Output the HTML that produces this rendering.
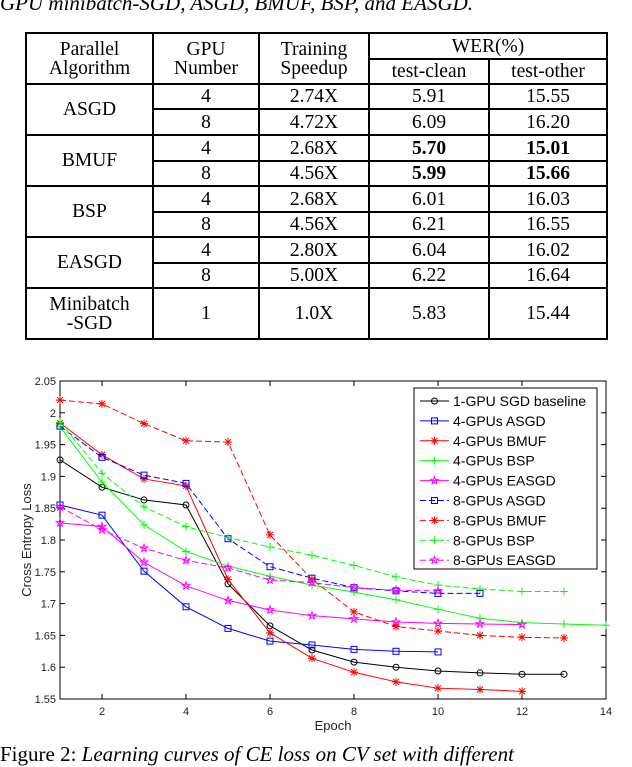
<!DOCTYPE html>
<html><head><meta charset="utf-8">
<style>
body{margin:0;width:632px;height:766px;overflow:hidden;background:#fff;position:relative;font-family:"Liberation Serif",serif}
.cap{position:absolute;left:0;white-space:nowrap;font-size:21px;font-style:italic}
table{position:absolute;left:25px;top:32px;border-collapse:collapse;font-size:19.5px;line-height:19px}
td{border:2px solid #000;text-align:center;padding:0}
b{font-weight:bold}
</style></head><body>
<div class="cap" style="top:-9px">GPU minibatch-SGD, ASGD, BMUF, BSP, and EASGD.</div>
<table>
<colgroup><col style="width:127px"><col style="width:106px"><col style="width:110px"><col style="width:120px"><col style="width:118px"></colgroup>
<tr style="height:26px"><td rowspan="2">Parallel<br>Algorithm</td><td rowspan="2">GPU<br>Number</td><td rowspan="2">Training<br>Speedup</td><td colspan="2">WER(%)</td></tr>
<tr style="height:25px"><td>test-clean</td><td>test-other</td></tr>
<tr style="height:25px"><td rowspan="2">ASGD</td><td>4</td><td>2.74X</td><td>5.91</td><td>15.55</td></tr>
<tr style="height:26px"><td>8</td><td>4.72X</td><td>6.09</td><td>16.20</td></tr>
<tr style="height:26px"><td rowspan="2">BMUF</td><td>4</td><td>2.68X</td><td><b>5.70</b></td><td><b>15.01</b></td></tr>
<tr style="height:25px"><td>8</td><td>4.56X</td><td><b>5.99</b></td><td><b>15.66</b></td></tr>
<tr style="height:26px"><td rowspan="2">BSP</td><td>4</td><td>2.68X</td><td>6.01</td><td>16.03</td></tr>
<tr style="height:25px"><td>8</td><td>4.56X</td><td>6.21</td><td>16.55</td></tr>
<tr style="height:26px"><td rowspan="2">EASGD</td><td>4</td><td>2.80X</td><td>6.04</td><td>16.02</td></tr>
<tr style="height:25px"><td>8</td><td>5.00X</td><td>6.22</td><td>16.64</td></tr>
<tr style="height:51px"><td>Minibatch<br>-SGD</td><td>1</td><td>1.0X</td><td>5.83</td><td>15.44</td></tr>
</table>
<svg id="chart" width="632" height="766" style="position:absolute;left:0;top:0"></svg>
<div class="cap" style="top:742px"><span style="font-style:normal">Figure 2:</span> Learning curves of CE loss on CV set with different</div>
<script>
const xTicks=[2,4,6,8,10,12,14];
const yTicks=[1.55,1.6,1.65,1.7,1.75,1.8,1.85,1.9,1.95,2,2.05];
const yTickLabels=["1.55","1.6","1.65","1.7","1.75","1.8","1.85","1.9","1.95","2","2.05"];
const seriesNames=["1-GPU SGD baseline","4-GPUs ASGD","4-GPUs BMUF","4-GPUs BSP","4-GPUs EASGD","8-GPUs ASGD","8-GPUs BMUF","8-GPUs BSP","8-GPUs EASGD"];
const baseline=[1.926,1.883,1.863,1.855,1.731,1.665,1.627,1.608,1.600,1.594,1.591,1.589,1.589];
const asgd4=[1.855,1.839,1.751,1.695,1.661,1.641,1.635,1.628,1.625,1.624];
const bmuf4=[1.984,1.934,1.896,1.885,1.738,1.654,1.614,1.592,1.577,1.567,1.565,1.562];
const bsp4=[1.978,1.891,1.824,1.782,1.759,1.743,1.729,1.718,1.706,1.691,1.677,1.670,1.668,1.666];
const easgd4=[1.827,1.821,1.765,1.728,1.705,1.690,1.681,1.676,1.671,1.669,1.668,1.667];
const asgd8=[1.979,1.930,1.902,1.889,1.802,1.758,1.740,1.725,1.720,1.716,1.716];
const bmuf8=[2.020,2.014,1.983,1.956,1.954,1.808,1.738,1.687,1.664,1.657,1.650,1.647,1.646];
const bsp8=[1.985,1.905,1.852,1.821,1.804,1.789,1.776,1.760,1.742,1.729,1.723,1.719,1.719];
const easgd8=[1.852,1.816,1.787,1.768,1.756,1.737,1.733,1.725,1.721,1.720];
const NS="http://www.w3.org/2000/svg";
const svg=document.getElementById('chart');
const L=60,R=606,T=381,B=699;
const xs=v=>L+(v-1)/(14-1)*(R-L);
const ys=v=>B-(v-1.55)/(0.5)*(B-T);
function mk(tag,a,parent){const e=document.createElementNS(NS,tag);for(const k in a)e.setAttribute(k,a[k]);(parent||svg).appendChild(e);return e;}
const frame=mk('rect',{x:L,y:T,width:R-L,height:B-T,fill:'none',stroke:'#000','stroke-width':1});


xTicks.forEach(t=>{const x=xs(t);
mk('line',{x1:x,x2:x,y1:B,y2:B-5,stroke:'#000'});mk('line',{x1:x,x2:x,y1:T,y2:T+5,stroke:'#000'});
const tx=mk('text',{x:x,y:B+16,'text-anchor':'middle','font-size':11,'font-family':'Liberation Sans, sans-serif',fill:'#222'});tx.textContent=t;

});
yTicks.forEach((t,i)=>{const y=ys(t);
mk('line',{x1:L,x2:L+5,y1:y,y2:y,stroke:'#000'});mk('line',{x1:R,x2:R-5,y1:y,y2:y,stroke:'#000'});
const tx=mk('text',{x:L-4,y:y+4,'text-anchor':'end','font-size':11,'font-family':'Liberation Sans, sans-serif',fill:'#222'});tx.textContent=yTickLabels[i];

});
const xt=mk('text',{x:333,y:730,'text-anchor':'middle','font-size':13,'font-family':'Liberation Sans, sans-serif',fill:'#222'});xt.textContent='Epoch';


const yt=mk('text',{x:0,y:0,transform:'translate(31,540) rotate(-90)','text-anchor':'middle','font-size':13,'font-family':'Liberation Sans, sans-serif',fill:'#222'});yt.textContent='Cross Entropy Loss';


function marker(g,type,x,y,c){
 if(type==='o')mk('circle',{cx:x,cy:y,r:3,fill:'none',stroke:c},g);
 else if(type==='s')mk('rect',{x:x-3,y:y-3,width:6,height:6,fill:'none',stroke:c},g);
 else if(type==='+')mk('path',{d:`M${x-4} ${y}H${x+4}M${x} ${y-4}V${y+4}`,stroke:c,fill:'none'},g);
 else if(type==='*')mk('path',{d:`M${x-4} ${y}H${x+4}M${x} ${y-4}V${y+4}M${x-3} ${y-3}L${x+3} ${y+3}M${x-3} ${y+3}L${x+3} ${y-3}`,stroke:c,fill:'none'},g);
 else {let p='';for(let i=0;i<10;i++){const r=i%2?1.6:4,a=-Math.PI/2+i*Math.PI/5;p+=(i?'L':'M')+(x+r*Math.cos(a)).toFixed(1)+' '+(y+r*Math.sin(a)).toFixed(1);}mk('path',{d:p+'Z',stroke:c,fill:'none'},g);}
}
const defs=[[baseline,'#000','o',''],[asgd4,'#00f','s',''],[bmuf4,'#f00','*',''],[bsp4,'#0f0','+',''],[easgd4,'#f0f','p',''],
[asgd8,'#00f','s','6,3'],[bmuf8,'#f00','*','6,3'],[bsp8,'#0f0','+','6,3'],[easgd8,'#f0f','p','6,3']];
const slugs=['baseline','4gpu-asgd','4gpu-bmuf','4gpu-bsp','4gpu-easgd','8gpu-asgd','8gpu-bmuf','8gpu-bsp','8gpu-easgd'];
defs.forEach((d,i)=>{const g=mk('g',{});


const pts=d[0].map((v,j)=>[xs(j+1),ys(v)]);
mk('polyline',{points:pts.map(p=>p.join(',')).join(' '),fill:'none',stroke:d[1],'stroke-width':1,'stroke-dasharray':d[3]||'none'},g);
pts.forEach(p=>marker(g,d[2],p[0],p[1],d[1]));});
const lg=mk('g',{});


mk('rect',{x:414,y:388,width:183,height:181,fill:'#fff',stroke:'#000'},lg);
defs.forEach((d,i)=>{const y=401+i*19.9;const e=mk('g',{},lg);


mk('line',{x1:420,x2:449,y1:y,y2:y,stroke:d[1],'stroke-dasharray':d[3]||'none'},e);marker(e,d[2],434.5,y,d[1]);
const t=mk('text',{x:453,y:y+5,'font-size':14,'font-family':'Liberation Sans, sans-serif',fill:'#000'},e);t.textContent=seriesNames[i];});
</script>
</body></html>
